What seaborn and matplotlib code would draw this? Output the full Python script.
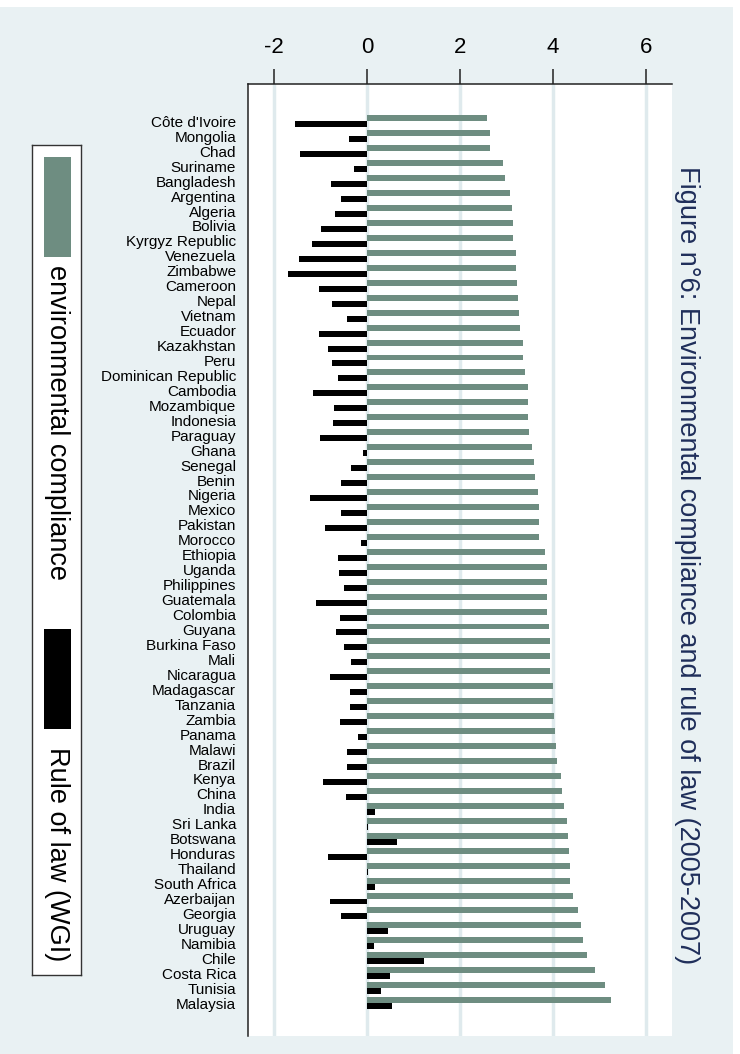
import pandas as pd
import seaborn as sns
import matplotlib.pyplot as plt
from matplotlib.patches import Rectangle

sns.set_style("white")
plt.rcParams["font.family"] = ["Liberation Sans", "DejaVu Sans"]

# -----------------------------------------------------------
# data (top to bottom)
# -----------------------------------------------------------
countries = [
    "Côte d'Ivoire", "Mongolia", "Chad", "Suriname", "Bangladesh", "Argentina",
    "Algeria", "Bolivia", "Kyrgyz Republic", "Venezuela", "Zimbabwe", "Cameroon",
    "Nepal", "Vietnam", "Ecuador", "Kazakhstan", "Peru", "Dominican Republic",
    "Cambodia", "Mozambique", "Indonesia", "Paraguay", "Ghana", "Senegal",
    "Benin", "Nigeria", "Mexico", "Pakistan", "Morocco", "Ethiopia", "Uganda",
    "Philippines", "Guatemala", "Colombia", "Guyana", "Burkina Faso", "Mali",
    "Nicaragua", "Madagascar", "Tanzania", "Zambia", "Panama", "Malawi",
    "Brazil", "Kenya", "China", "India", "Sri Lanka", "Botswana", "Honduras",
    "Thailand", "South Africa", "Azerbaijan", "Georgia", "Uruguay", "Namibia",
    "Chile", "Costa Rica", "Tunisia", "Malaysia",
]

env_compliance = [
    2.57, 2.65, 2.65, 2.93, 2.96, 3.08, 3.12, 3.13, 3.13, 3.20, 3.20, 3.22,
    3.24, 3.27, 3.29, 3.35, 3.36, 3.39, 3.45, 3.47, 3.47, 3.49, 3.55, 3.58,
    3.62, 3.67, 3.69, 3.70, 3.70, 3.82, 3.86, 3.86, 3.86, 3.87, 3.90, 3.93,
    3.93, 3.93, 3.99, 4.00, 4.02, 4.03, 4.07, 4.09, 4.16, 4.19, 4.23, 4.30,
    4.31, 4.33, 4.36, 4.37, 4.42, 4.53, 4.60, 4.64, 4.73, 4.89, 5.12, 5.24,
]

rule_of_law = [
    -1.55, -0.39, -1.43, -0.27, -0.76, -0.56, -0.68, -0.98, -1.17, -1.45, -1.69, -1.02,
    -0.74, -0.42, -1.03, -0.83, -0.74, -0.61, -1.15, -0.71, -0.73, -1.00, -0.09, -0.33,
    -0.56, -1.22, -0.55, -0.90, -0.12, -0.62, -0.59, -0.49, -1.08, -0.58, -0.66, -0.49,
    -0.33, -0.80, -0.37, -0.37, -0.57, -0.19, -0.43, -0.42, -0.93, -0.44, 0.17, 0.03,
    0.65, -0.84, 0.02, 0.17, -0.80, -0.56, 0.45, 0.16, 1.22, 0.49, 0.31, 0.55,
]

series_names = ["environmental compliance", "Rule of law (WGI)"]
series_colors = ["#6E8D81", "#000000"]
x_ticks = [-2, 0, 2, 4, 6]
title = "Figure n°6: Environmental compliance and rule of law (2005-2007)"

BG = "#E9F1F3"
GRID = "#DFEAED"

df = pd.DataFrame({
    "country": countries * 2,
    "series": [series_names[0]] * len(countries) + [series_names[1]] * len(countries),
    "value": env_compliance + rule_of_law,
})

# -----------------------------------------------------------
# figure
# -----------------------------------------------------------
W, H = 740, 1054
fig = plt.figure(figsize=(W / 100, H / 100), dpi=100, facecolor=BG)

def fx(px):
    return px / W

def fy(py):
    return 1 - py / H

# white strips around the exported graph region
fig.patches.append(Rectangle((0, fy(7)), 1, 7 / H, transform=fig.transFigure,
                             facecolor="white", edgecolor="none", zorder=0))
fig.patches.append(Rectangle((fx(733), 0), 7 / W, 1, transform=fig.transFigure,
                             facecolor="white", edgecolor="none", zorder=0))

ax = fig.add_axes([fx(248), fy(1036), fx(672) - fx(248), fy(84) - fy(1036)])
ax.set_facecolor("white")

sns.barplot(data=df, y="country", x="value", hue="series", hue_order=series_names,
            palette=series_colors, orient="h", width=0.8, saturation=1,
            errorbar=None, linewidth=0, legend=False, ax=ax)

ax.set_xlim(-2.55, 6.55)
ax.set_ylim(len(countries) - 1 + 2.2, -2.5)
ax.set_xticks(x_ticks)
ax.set_xticklabels([str(t) for t in x_ticks])
ax.xaxis.tick_top()
ax.xaxis.set_label_position("top")
ax.set_xlabel("")
ax.set_ylabel("")
ax.xaxis.grid(True, color=GRID, linewidth=2.5)
ax.yaxis.grid(False)
ax.set_axisbelow(True)

ax.tick_params(axis="x", top=True, bottom=False, length=11, width=1.1,
               color="#222222", pad=8, labelsize=16, labelcolor="black")
ax.tick_params(axis="y", left=False, length=0, pad=8.5, labelsize=11,
               labelcolor="black")

for side in ["right", "bottom"]:
    ax.spines[side].set_visible(False)
for side in ["left", "top"]:
    ax.spines[side].set_color("#222222")
    ax.spines[side].set_linewidth(1.1)

# title (rotated, right side)
fig.text(fx(687), fy(166), title, rotation=270, ha="center", va="top",
         fontsize=19.5, color="#1F2E5A")

# legend (rotated, left side)
leg = fig.add_axes([fx(32), fy(975), fx(81) - fx(32), fy(145) - fy(975)])
leg.set_xlim(32, 81)
leg.set_ylim(975, 145)
leg.set_facecolor("white")
leg.set_xticks([])
leg.set_yticks([])
for s in leg.spines.values():
    s.set_color("#333333")
    s.set_linewidth(1.0)

key_tops = [157, 629]
text_tops = [265, 747]
for top, ttop, name, col in zip(key_tops, text_tops, series_names, series_colors):
    leg.add_patch(Rectangle((43.5, top), 27.2, 100, facecolor=col, edgecolor="none"))
    leg.text(57, ttop, name, rotation=270, ha="center", va="top",
             fontsize=19.5, color="black")

fig.savefig("out.png", dpi=100, facecolor=BG)
